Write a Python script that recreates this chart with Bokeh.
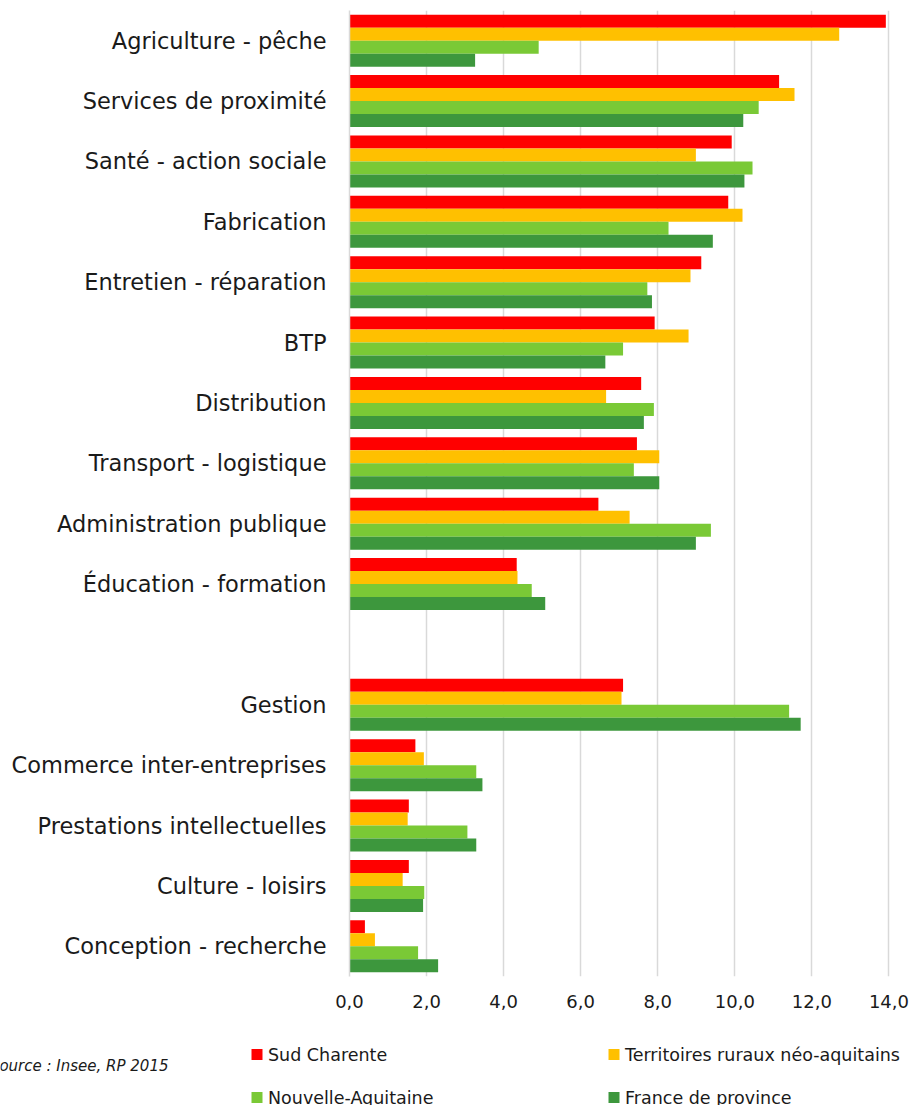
from bokeh.plotting import figure
from bokeh.models import ColumnDataSource, FactorRange, Range1d, FixedTicker
from bokeh.transform import dodge
from bokeh.core.properties import value
from bokeh.embed import file_html
from bokeh.resources import INLINE

# ---- data (top to bottom) ----
categories = ["Agriculture - pêche", "Services de proximité", "Santé - action sociale",
              "Fabrication", "Entretien - réparation", "BTP", "Distribution",
              "Transport - logistique", "Administration publique", "Éducation - formation",
              " ",
              "Gestion", "Commerce inter-entreprises", "Prestations intellectuelles",
              "Culture - loisirs", "Conception - recherche"]
sud_charente = [13.92, 11.15, 9.92, 9.83, 9.13, 7.92, 7.57, 7.46, 6.46, 4.34, 0,
                7.10, 1.71, 1.54, 1.54, 0.40]
territoires_ruraux = [12.71, 11.55, 8.99, 10.20, 8.85, 8.80, 6.66, 8.04, 7.27, 4.36, 0,
                      7.06, 1.93, 1.51, 1.38, 0.66]
nouvelle_aquitaine = [4.91, 10.62, 10.46, 8.28, 7.73, 7.10, 7.90, 7.38, 9.38, 4.73, 0,
                      11.41, 3.29, 3.06, 1.94, 1.78]
france_province = [3.26, 10.22, 10.25, 9.43, 7.85, 6.64, 7.64, 8.04, 8.99, 5.08, 0,
                   11.71, 3.45, 3.29, 1.91, 2.30]
series_names = ["Sud Charente", "Territoires ruraux néo-aquitains",
                "Nouvelle-Aquitaine", "France de province"]
series_colors = ["#FF0000", "#FFC000", "#7AC936", "#3D973D"]
x_ticks = [0, 2, 4, 6, 8, 10, 12, 14]
x_tick_labels = ["0,0", "2,0", "4,0", "6,0", "8,0", "10,0", "12,0", "14,0"]
source_text = "Source : Insee, RP 2015"

FONT = "DejaVu Sans"
TXT = "#1a1a1a"
W = 915

src = ColumnDataSource(dict(cat=categories, s0=sud_charente, s1=territoires_ruraux,
                            s2=nouvelle_aquitaine, s3=france_province))

p = figure(width=W, height=1012, output_backend="svg", toolbar_location=None,
           y_range=FactorRange(factors=categories[::-1]),
           x_range=Range1d(0, 14.69),
           min_border_left=349, min_border_right=0, min_border_top=10, min_border_bottom=36)

bar_h = 0.215
offsets = [1.5 * bar_h, 0.5 * bar_h, -0.5 * bar_h, -1.5 * bar_h]
for i, key in enumerate(["s0", "s1", "s2", "s3"]):
    p.hbar(y=dodge("cat", offsets[i], range=p.y_range), right=key, left=0,
           height=bar_h, source=src, fill_color=series_colors[i], line_color=None)

p.outline_line_color = None
p.ygrid.grid_line_color = None
p.xgrid.grid_line_color = "#D9D9D9"
p.xgrid.grid_line_width = 1.5
p.xgrid.ticker = FixedTicker(ticks=x_ticks)

xa = p.xaxis[0]
xa.ticker = FixedTicker(ticks=x_ticks)
xa.major_label_overrides = {t: l for t, l in zip(x_ticks, x_tick_labels)}
xa.axis_line_color = None
xa.major_tick_line_color = None
xa.minor_tick_line_color = None
xa.major_label_text_font = FONT
xa.major_label_text_font_size = "18px"
xa.major_label_text_color = TXT
xa.major_label_standoff = 12

ya = p.yaxis[0]
ya.axis_line_color = "#D9D9D9"
ya.axis_line_width = 1.5
ya.major_tick_line_color = None
ya.minor_tick_line_color = None
ya.major_label_text_font = FONT
ya.major_label_text_font_size = "22.5px"
ya.major_label_text_color = TXT
ya.major_label_standoff = 17

# ---- legend strip (drawn with glyphs in pixel-like coordinates) ----
H2 = 1105 - 1012
q = figure(width=W, height=H2, output_backend="svg", toolbar_location=None,
           x_range=Range1d(0, W), y_range=Range1d(H2, 0),
           min_border_left=0, min_border_right=0, min_border_top=0, min_border_bottom=0)
q.axis.visible = False
q.grid.visible = False
q.outline_line_color = None

col_x = [613.5 - 357, 613.5]
row_y = [42, 85]
mx, my = [], []
for k in range(4):
    mx.append(col_x[k % 2])
    my.append(row_y[k // 2])
leg_src = ColumnDataSource(dict(x=mx, y=my, tx=[x + 11 for x in mx], name=series_names,
                                color=series_colors))
q.scatter("x", "y", source=leg_src, marker="square", size=11, fill_color="color",
          line_color=None)
q.text("tx", "y", text="name", source=leg_src, text_font=value(FONT),
       text_font_size="17.5px", text_color=TXT, text_baseline="middle", text_align="left")
q.text(x=[168], y=[53], text=[source_text], text_font=value(FONT), text_font_size="15px",
       text_font_style="italic", text_color=TXT, text_baseline="middle", text_align="right")

html = file_html([p, q], INLINE)
html = html.replace("<head>", "<head><style>body{margin:0}</style>", 1)
open("out.html", "w").write(html)
